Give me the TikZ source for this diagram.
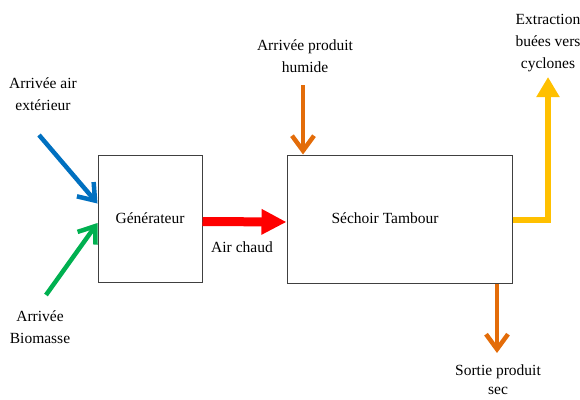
\documentclass[tikz,border=0pt]{standalone}
\usepackage{fontspec}
\setmainfont{Liberation Serif}
\usetikzlibrary{arrows.meta}
\definecolor{cblue}{HTML}{0070C0}
\definecolor{cgreen}{HTML}{00B050}
\definecolor{cred}{HTML}{FF0000}
\definecolor{corange}{HTML}{E36C09}
\definecolor{cyellow}{HTML}{FFC000}
\tikzset{
  box/.style={draw=black!75, line width=1pt, fill=white, inner sep=0pt},
  lbl/.style={align=center, inner sep=0pt, font=\rmfamily\fontsize{15.5}{22}\selectfont},
  thinarrow/.style={line width=4.5pt, -{Straight Barb[length=15pt,width=22pt,line width=4.5pt]}},
  fatarrow/.style={line width=9pt, -{Triangle[length=25pt,width=24pt]}},
}
\begin{document}
\begin{tikzpicture}[x=1pt,y=-1pt]
\useasboundingbox (0,0) rectangle (580,399);
\node[box, minimum width=104pt, minimum height=127pt] (gen) at (150,218.5) {};
\node[lbl] (gentxt) at (150,218) {Générateur};
\node[box, minimum width=225pt, minimum height=128pt] (sech) at (399.5,219) {};
\node[lbl] (sechtxt) at (385,218) {Séchoir Tambour};
\node[lbl] (air) at (43,94) {Arrivée air\\extérieur};
\node[lbl] (bio) at (40,327) {Arrivée\\Biomasse};
\node[lbl] (chaud) at (242,247) {Air chaud};
\node[lbl] (hum) at (305,56) {Arrivée produit\\humide};
\node[lbl] (extr) at (548,43) {Extraction\\buées vers\\cyclones};
\node[lbl, font=\rmfamily\fontsize{15.5}{19}\selectfont, anchor=north] (sortie) at (498,365) {Sortie produit\\sec};
\coordinate (bluestart) at (39,135);
\coordinate (greenstart) at (46,295);
\coordinate (humstart) at (303,85);
\coordinate (yellowend) at (548,77);
\coordinate (sortieend) at (497,353);
\draw[thinarrow, cblue] (bluestart) -- ([yshift=15pt]gen.west);
\draw[thinarrow, cgreen] (greenstart) -- ([yshift=-4.5pt]gen.west);
\draw[fatarrow, cred] ([yshift=-3pt]gen.east) -- ([yshift=-3pt]sech.west);
\draw[thinarrow, corange] (humstart) -- ([xshift=-96.5pt]sech.north);
\draw[line width=6.5pt, cyellow, -{Triangle[length=20pt,width=22pt]}] ([yshift=-1pt]sech.east) -| (yellowend);
\draw[thinarrow, corange] ([xshift=97.5pt]sech.south) -- (sortieend);
\end{tikzpicture}
\end{document}
